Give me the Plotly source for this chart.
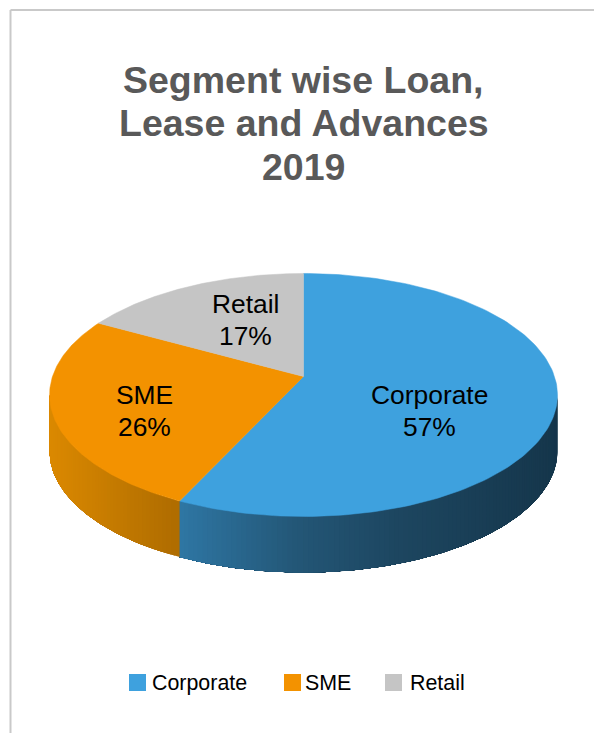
import numpy as np
import plotly.graph_objects as go

# Data
segments = ["Corporate", "SME", "Retail"]
shares = [57, 26, 17]
title_lines = ["Segment wise Loan,", "Lease and Advances", "2019"]

# Styling
top_colors = ["#3EA1DE", "#F39200", "#C5C5C5"]
# Shaded wall colours by horizontal pixel offset from the pie's apex
wall_stops = {
    "Corporate": ([-130, -5, 95, 254], [(47, 120, 166), (35, 86, 118), (29, 70, 96), (21, 54, 75)]),
    "SME": ([-254, -130], [(219, 137, 0), (176, 109, 0)]),
    "Retail": ([-254, 254], [(150, 150, 150), (150, 150, 150)]),
}
W, H = 594, 733
APEX_X, APEX_Y = 303.5, 376.5
A, B, K = 251.0, 118.7, 0.152  # projection of the disc: half-axes and perspective
DEPTH = 56.0


def project(theta):
    """Clockwise angle from 12 o'clock to offsets from the apex, y pointing down."""
    w = 1 + K * np.cos(theta)
    return A * np.sin(theta) / w, -B * np.cos(theta) / w


def mix(x, stops):
    xs, cols = stops
    return "rgb({:.0f},{:.0f},{:.0f})".format(*[np.interp(x, xs, [c[i] for c in cols]) for i in range(3)])


fig = go.Figure()

edges = np.cumsum([0] + shares) / sum(shares) * 2 * np.pi
vis_start, vis_end = np.arccos(-K), 2 * np.pi - np.arccos(-K)

# Side wall: strips painted outward from the slice's far end, each one running
# to the end of the slice and being overdrawn by the next, so no seams appear
for name, a0, a1 in zip(segments, edges[:-1], edges[1:]):
    lo, hi = max(a0, vis_start), min(a1, vis_end)
    if hi <= lo:
        continue
    steps = max(2, int(np.degrees(hi - lo) / 1.0))
    grid = np.linspace(lo, hi, steps + 1)
    for i in range(steps):
        ts = np.linspace(grid[i], hi, max(3, (steps - i) * 2))
        px, py = project(ts)
        strip_x, _ = project(np.array([(grid[i] + grid[i + 1]) / 2]))
        col = mix(strip_x[0], wall_stops[name])
        fig.add_trace(go.Scatter(
            x=np.r_[px, px[::-1], px[0]],
            y=np.r_[py, py[::-1] + DEPTH, py[0]],
            mode="lines", fill="toself", fillcolor=col,
            line=dict(width=0),
            hoverinfo="skip", showlegend=False,
        ))

# Top face of each slice
for name, a0, a1, col in zip(segments, edges[:-1], edges[1:], top_colors):
    ts = np.linspace(a0, a1, 160)
    px, py = project(ts)
    fig.add_trace(go.Scatter(
        x=np.r_[0, px, 0], y=np.r_[0, py, 0],
        mode="lines", fill="toself", fillcolor=col,
        line=dict(color=col, width=0.5),
        name=name, hoverinfo="name", showlegend=False,
    ))

annotations = []


def put_text(text, px, py, size, color="#000000", anchor="center", bold=False):
    annotations.append(dict(
        text=f"<b>{text}</b>" if bold else text,
        x=px / W, y=1 - py / H, xref="paper", yref="paper",
        xanchor=anchor, yanchor="middle", showarrow=False,
        font=dict(family="Liberation Sans, Arial, sans-serif", size=size, color=color),
    ))


# Title, one line at a time for its tight leading
for line, ty in zip(title_lines, [80, 123.5, 167]):
    put_text(line, 303.5, ty, 37.5, color="#595959", bold=True)

# Slice labels
label_pos = [(429.5, 395, 427), (144.5, 395, 427), (245.5, 304, 336)]
for name, share, (lx, y1, y2) in zip(segments, shares, label_pos):
    put_text(name, lx, y1, 26.4)
    put_text(f"{share}%", lx, y2, 26.4)

# Legend row
shapes = []
legend_pos = [(129, 149.5), (284, 302.5), (385, 407.5)]
for name, col, (sx, tx) in zip(segments, top_colors, legend_pos):
    shapes.append(dict(type="rect", xref="paper", yref="paper",
                       x0=sx / W, x1=(sx + 17) / W, y0=1 - 691 / H, y1=1 - 674 / H,
                       fillcolor=col, line=dict(width=0)))
    put_text(name, tx, 683, 21.4, anchor="left")

# Chart frame along the top and left edges
frame = "#C9C9C9"
shapes.append(dict(type="line", xref="paper", yref="paper",
                   x0=10.5 / W, x1=1, y0=1 - 10 / H, y1=1 - 10 / H, line=dict(color=frame, width=2)))
shapes.append(dict(type="line", xref="paper", yref="paper",
                   x0=10.5 / W, x1=10.5 / W, y0=0, y1=1 - 10 / H, line=dict(color=frame, width=2)))

fig.update_layout(
    width=W, height=H, margin=dict(l=0, r=0, t=0, b=0),
    paper_bgcolor="white", plot_bgcolor="white",
    xaxis=dict(range=[-APEX_X, W - APEX_X], visible=False, fixedrange=True),
    yaxis=dict(range=[H - APEX_Y, -APEX_Y], visible=False, fixedrange=True),
    annotations=annotations, shapes=shapes, showlegend=False,
)

fig.write_html("out.html", config=dict(displayModeBar=False))
